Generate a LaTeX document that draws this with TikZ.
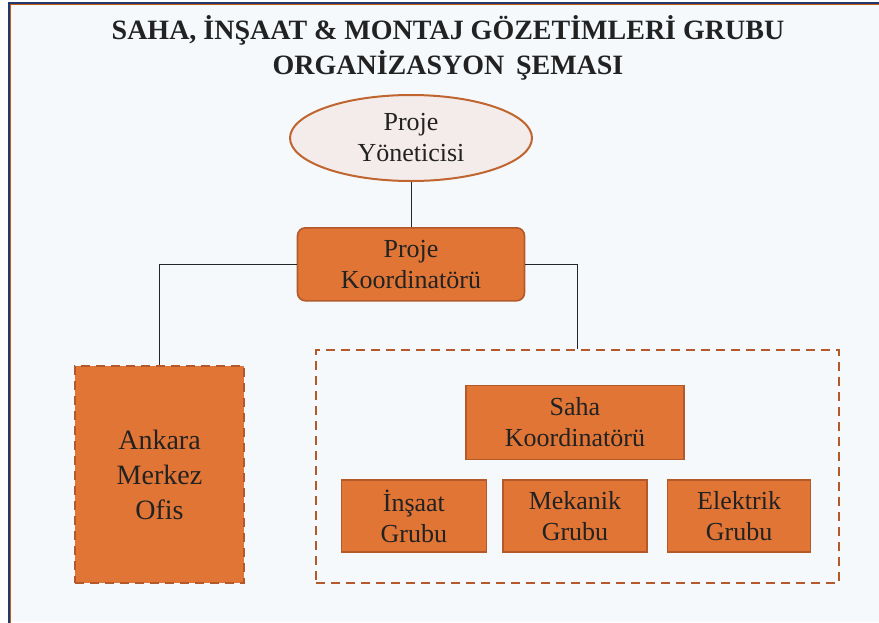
\documentclass[tikz,border=0pt]{standalone}
\usepackage{fontspec}
\setmainfont{Liberation Serif}
\usetikzlibrary{shapes.geometric, positioning}
\definecolor{pagebg}{HTML}{F5F9FC}
\definecolor{frameblue}{HTML}{1F3A6E}
\definecolor{frameorange}{HTML}{C55A11}
\definecolor{boxfill}{HTML}{E07535}
\definecolor{boxline}{HTML}{B3592A}
\definecolor{ovalline}{HTML}{C0652F}
\definecolor{ovalfill}{HTML}{F4ECEA}
\definecolor{inktext}{HTML}{222222}
\tikzstyle{link} = [
    draw=black!85,
    line width=1pt
]

\begin{document}
\begin{tikzpicture}[
    x=1pt, y=-1pt,
    box/.style={
        rectangle,
        draw=boxline,
        fill=boxfill,
        line width=1.6pt,
        align=center,
        inner sep=0pt,
        text=inktext,
        font=\fontsize{26}{31}\selectfont
    },
    oval/.style={
        ellipse,
        draw=ovalline,
        fill=ovalfill,
        line width=2pt,
        align=center,
        inner sep=0pt,
        text=inktext,
        font=\fontsize{26}{31}\selectfont
    },
    dashbox/.style={
        rectangle,
        draw=boxline,
        line width=2.4pt,
        dash pattern=on 9pt off 6pt,
        inner sep=0pt
    }
]
\useasboundingbox (0,0) rectangle (879,622);

% Page and frame
\fill[white] (0,0) rectangle (879,622);
\fill[pagebg] (9,3) rectangle (879,622);
\draw[frameblue, line width=2pt] (8.5,650) -- (8.5,2.5) -- (900,2.5);
\draw[frameorange, line width=1.5pt] (10.5,650) -- (10.5,4.5) -- (900,4.5);

% Title
\node[align=center, text=inktext, font=\fontsize{28}{35}\selectfont\bfseries] (title) at (448,48)
    {SAHA, İNŞAAT \& MONTAJ GÖZETİMLERİ GRUBU\\ORGANİZASYON \,ŞEMASI};

% Top
\node[oval, minimum width=242pt, minimum height=86pt] (pm) at (411,138) {Proje\\Yöneticisi};
\node[box, rounded corners=8pt, minimum width=227pt, minimum height=73pt, below=45pt of pm] (pk) {Proje\\Koordinatörü};

% Left
\node[box, dashbox, fill=boxfill, minimum width=169pt, minimum height=217pt,
      font=\fontsize{28}{35}\selectfont] (ankara) at (159.5,474.5) {Ankara\\Merkez\\Ofis};

% Right group
\node[dashbox, minimum width=523pt, minimum height=233pt] (sahagrp) at (577.5,466.5) {};
\node[box, minimum width=144pt, minimum height=72pt] (mekanik) at (575,516) {Mekanik\\Grubu};
\node[box, minimum width=145pt, minimum height=72pt, left=15pt of mekanik] (insaat) {İnşaat\\Grubu};
\node[box, minimum width=143pt, minimum height=72pt, right=19pt of mekanik] (elektrik) {Elektrik\\Grubu};
\node[box, minimum width=218pt, minimum height=74pt, above=19pt of mekanik] (saha) {Saha\\Koordinatörü};

% Lines
\draw[link] (pm) -- (pk);
\draw[link] (pk.west) -| (ankara.north);
\draw[link] (pk.east) -| (sahagrp.north);

\end{tikzpicture}
\end{document}
